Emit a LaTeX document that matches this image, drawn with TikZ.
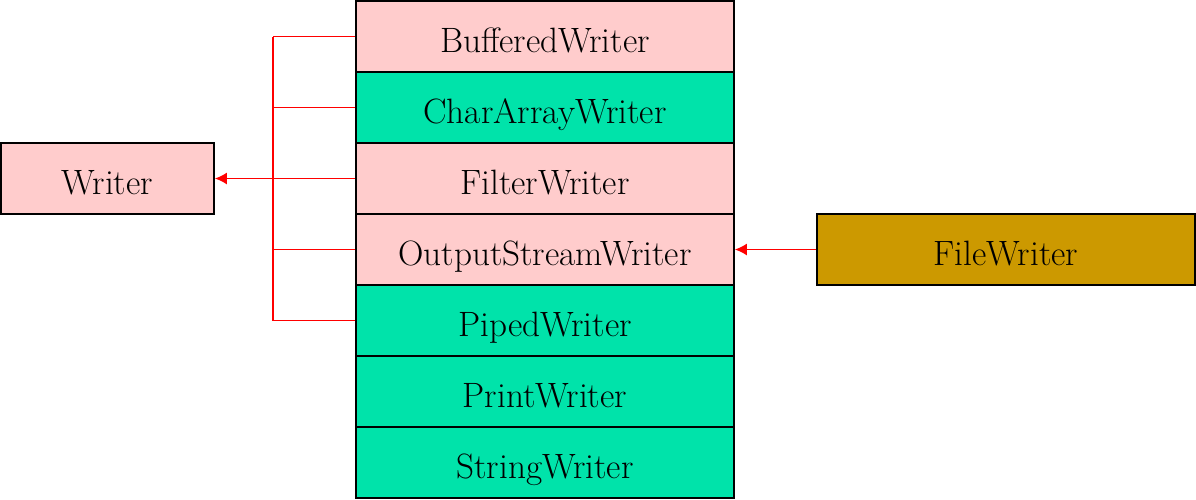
\documentclass[tikz,border=0pt]{standalone}
\usepackage{fontspec}
\usepackage{tikz}
\usetikzlibrary{arrows.meta}
\definecolor{rowpink}{HTML}{FFCCCC}
\definecolor{rowgreen}{HTML}{00E3AA}
\definecolor{rowgold}{HTML}{CC9900}

\begin{document}
\begin{tikzpicture}[x=0.5pt, y=-0.5pt,
    cls/.style={draw, line width=0.8pt, minimum width=189pt, minimum height=35.5pt,
      inner sep=0pt, text height=15.5pt, text depth=0pt, font=\fontsize{17.6}{21}\selectfont},
    link/.style={red, line width=0.9pt},
    tip/.style={-{Latex[length=6pt,width=6pt]}}]

                \useasboundingbox (0,0) rectangle (1196,499);

                \node[cls, fill=rowpink] (buf) at (545,36.5) {BufferedWriter};
                \node[cls, fill=rowgreen] (chr) at (545,107.5) {CharArrayWriter};
                \node[cls, fill=rowpink] (flt) at (545,178.5) {FilterWriter};
                \node[cls, fill=rowpink] (osw) at (545,249.5) {OutputStreamWriter};
                \node[cls, fill=rowgreen] (pip) at (545,320.5) {PipedWriter};
                \node[cls, fill=rowgreen] (prt) at (545,391.5) {PrintWriter};
                \node[cls, fill=rowgreen] (str) at (545,462.5) {StringWriter};

                \node[cls, fill=rowpink, minimum width=106.5pt] (wr) at (107.5,178.5) {Writer};
                \node[cls, fill=rowgold] (fw) at (1006,249.5) {FileWriter};

                \coordinate (bus) at (273,0);

                % branches to the shared line
                \foreach \n in {buf,chr,osw,pip}
                    \draw[link] (\n.west) -- (\n.west -| bus);
                \draw[link] (buf.west -| bus) -- (pip.west -| bus);
                \draw[link, tip] (flt.west) -- (wr.east);
                \draw[link, tip] (fw.west) -- (osw.east);

\end{tikzpicture}
\end{document}
